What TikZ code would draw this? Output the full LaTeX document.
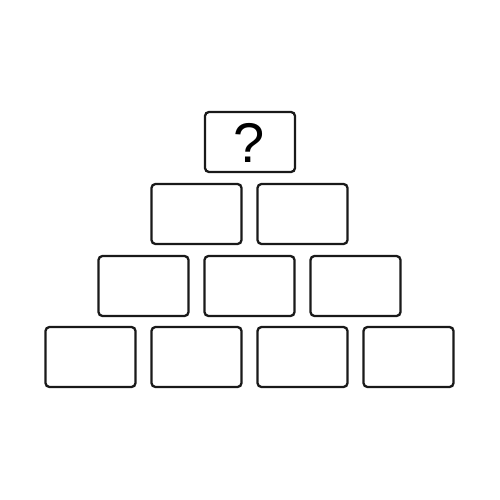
\documentclass[tikz,border=0pt]{standalone}
\usepackage{fontspec}
\setmainfont{Liberation Sans}
\begin{document}
\begin{tikzpicture}[x=1pt,y=-1pt,
  brick/.style={draw=black!90,line width=2.3pt,rounded corners=4pt,minimum width=90pt,minimum height=60pt,inner sep=0pt,fill=white}]
\useasboundingbox (0,0) rectangle (500,500);
\fill[white] (0,0) rectangle (500,500);
\node[brick] (top) at (250,142) {};
\node[font=\fontsize{56}{56}\selectfont,inner sep=0pt,anchor=base] (q) at (249,162.5) {?};
\node[brick] (b21) at (196.5,214) {};
\node[brick] (b22) at (302.5,214) {};
\node[brick] (b31) at (143.5,286) {};
\node[brick] (b32) at (249.5,286) {};
\node[brick] (b33) at (355.5,286) {};
\node[brick] (b41) at (90.5,357) {};
\node[brick] (b42) at (196.5,357) {};
\node[brick] (b43) at (302.5,357) {};
\node[brick] (b44) at (408.5,357) {};
\end{tikzpicture}
\end{document}
